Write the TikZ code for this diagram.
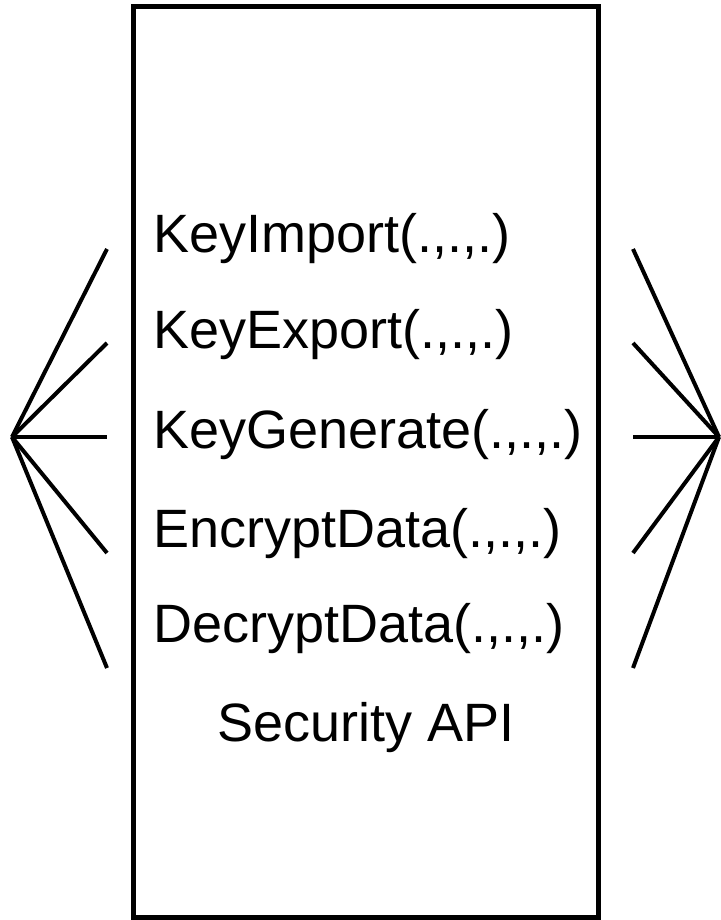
\documentclass[tikz,border=0pt]{standalone}
\usepackage{fontspec}
\setmainfont{Liberation Sans}

\begin{document}
\begin{tikzpicture}[x=1pt,y=1pt]
\tikzstyle{every node}+=[inner sep=0pt]
\tikzstyle{apibox}=[draw=black, line width=5pt, minimum width=464.5pt, minimum height=911pt]
\tikzstyle{call}=[anchor=base west, font=\fontsize{54}{62}\selectfont]
\tikzstyle{wire}=[black, line width=4pt]
\useasboundingbox (0,0) rectangle (720,-920);
\node [apibox] (api) at (365.75,-462) {};
\node [call] (imp) at (153,-252) {KeyImport(.,.,.)};
\node [call] (exp) at (153,-348) {KeyExport(.,.,.)};
\node [call] (gen) at (153,-448) {KeyGenerate(.,.,.)};
\node [call] (enc) at (153,-547) {EncryptData(.,.,.)};
\node [call] (dec) at (153,-642) {DecryptData(.,.,.)};
\node [anchor=base, font=\fontsize{54}{62}\selectfont] (name) at (365.75,-741) {Security API};
% left fan
\coordinate (lhub) at (12,-437);
\coordinate (l1) at (107,-249);
\coordinate (l2) at (107,-343);
\coordinate (l3) at (107,-437);
\coordinate (l4) at (107,-553);
\coordinate (l5) at (107,-668);
\foreach \e in {l1,l2,l3,l4,l5}
  \draw [wire] (lhub) -- (\e);
% right fan
\coordinate (rhub) at (719,-437);
\coordinate (r1) at (633,-249);
\coordinate (r2) at (633,-343);
\coordinate (r3) at (633,-437);
\coordinate (r4) at (633,-553);
\coordinate (r5) at (633,-668);
\foreach \e in {r1,r2,r3,r4,r5}
  \draw [wire] (rhub) -- (\e);
\end{tikzpicture}
\end{document}
